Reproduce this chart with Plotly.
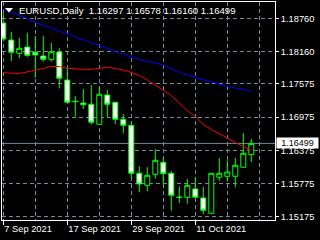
import plotly.graph_objects as go

# ---- data ----
dates = ["2021-09-07", "2021-09-08", "2021-09-09", "2021-09-10", "2021-09-13", "2021-09-14",
         "2021-09-15", "2021-09-16", "2021-09-17", "2021-09-20", "2021-09-21", "2021-09-22",
         "2021-09-23", "2021-09-24", "2021-09-27", "2021-09-28", "2021-09-29", "2021-09-30",
         "2021-10-01", "2021-10-04", "2021-10-05", "2021-10-06", "2021-10-07", "2021-10-08",
         "2021-10-11", "2021-10-12", "2021-10-13", "2021-10-14", "2021-10-15", "2021-10-18",
         "2021-10-19", "2021-10-20"]
opens = [1.18675, 1.18368, 1.18128, 1.18241, 1.18146, 1.18079, 1.18019, 1.18151, 1.17645, 1.17262,
         1.17230, 1.17206, 1.16845, 1.17374, 1.17242, 1.16935, 1.16826, 1.15959, 1.15742, 1.15941,
         1.16158, 1.15959, 1.15530, 1.15525, 1.15676, 1.15513, 1.15236, 1.15887, 1.15905, 1.15905,
         1.16068, 1.16297]
highs = [1.18856, 1.18518, 1.18409, 1.18500, 1.18440, 1.18440, 1.18319, 1.18218, 1.17857, 1.17356,
         1.17482, 1.17555, 1.17524, 1.17464, 1.17250, 1.17031, 1.16891, 1.16086, 1.16068, 1.16393,
         1.16236, 1.16006, 1.15724, 1.15856, 1.15887, 1.15711, 1.15965, 1.16236, 1.16194, 1.16236,
         1.16687, 1.16578]
lows = [1.18350, 1.17988, 1.18037, 1.18066, 1.17687, 1.17976, 1.17976, 1.17495, 1.17230, 1.16982,
        1.17121, 1.16845, 1.16832, 1.16976, 1.16845, 1.16682, 1.15874, 1.15616, 1.15634, 1.15862,
        1.15754, 1.15283, 1.15423, 1.15410, 1.15513, 1.15224, 1.15224, 1.15825, 1.15814, 1.15706,
        1.16068, 1.16160]
closes = [1.18386, 1.18146, 1.18218, 1.18091, 1.18097, 1.18019, 1.18156, 1.17676, 1.17242, 1.17255,
          1.17200, 1.16881, 1.17387, 1.17206, 1.16935, 1.16826, 1.15959, 1.15766, 1.15923, 1.16194,
          1.15952, 1.15562, 1.15522, 1.15742, 1.15525, 1.15290, 1.15959, 1.15959, 1.15983, 1.16104,
          1.16321, 1.16499]
ma_blue = [1.18919, 1.18865, 1.18814, 1.18756, 1.18688, 1.18634, 1.18585, 1.18534, 1.18485, 1.18431,
           1.18377, 1.18314, 1.18259, 1.18214, 1.18160, 1.18110, 1.18061, 1.18016, 1.17979, 1.17952,
           1.17916, 1.17844, 1.17781, 1.17735, 1.17694, 1.17645, 1.17609, 1.17573, 1.17528, 1.17501,
           1.17473, 1.17446]
ma_red = [1.17777, 1.17766, 1.17763, 1.17793, 1.17817, 1.17853, 1.17889, 1.17889, 1.17856, 1.17844,
          1.17838, 1.17838, 1.17856, 1.17875, 1.17853, 1.17826, 1.17781, 1.17726, 1.17645, 1.17555,
          1.17464, 1.17365, 1.17229, 1.17094, 1.16986, 1.16841, 1.16751, 1.16669, 1.16597, 1.16516,
          1.16444, 1.16371]
price_ticks = [1.18760, 1.18160, 1.17575, 1.16975, 1.16375, 1.15775, 1.15175]
price_tick_labels = ["1.18760", "1.18160", "1.17575", "1.16975", "1.16375", "1.15775", "1.15175"]
date_tick_idx = [0, 8, 16, 24]
date_tick_labels = ["7 Sep 2021", "17 Sep 2021", "29 Sep 2021", "11 Oct 2021"]
symbol = "EURUSD,Daily"

idx = list(range(len(dates)))
FONT = "Liberation Sans"
GRID = "#778899"
GREEN = "#00ff00"

fig = go.Figure()
fig.add_trace(go.Candlestick(
    x=idx, open=opens, high=highs, low=lows, close=closes,
    increasing=dict(line=dict(color=GREEN, width=1), fillcolor="black"),
    decreasing=dict(line=dict(color=GREEN, width=1), fillcolor="white"),
    whiskerwidth=0, hoverinfo="skip", showlegend=False))
fig.add_trace(go.Scatter(x=idx, y=ma_blue, mode="lines", line=dict(color="#0000ff", width=1),
                         hoverinfo="skip", showlegend=False))
fig.add_trace(go.Scatter(x=idx, y=ma_red, mode="lines", line=dict(color="#ff0000", width=1),
                         hoverinfo="skip", showlegend=False))

# bid line
fig.add_shape(type="line", xref="paper", x0=0, x1=1, yref="y", y0=closes[-1], y1=closes[-1],
              line=dict(color=GRID, width=1), layer="below")

PW, PH, L, T = 273.0, 218.0, 2.0, 2.0
def px(xp):
    return (xp - L) / PW
def py(yp):
    return 1 - (yp - T) / PH

# small triangle before the title
fig.add_shape(type="path", xref="paper", yref="paper",
              path=f"M{px(5)},{py(8)} L{px(13)},{py(8)} L{px(9)},{py(12.5)} Z",
              fillcolor="white", line=dict(color="white", width=0))

title = symbol + "\u00a0\u00a0" + " ".join(f"{v:.5f}" for v in (opens[-1], highs[-1], lows[-1], closes[-1]))
fig.add_annotation(xref="paper", yref="paper", x=px(17.5), y=py(10), xanchor="left", yanchor="middle",
                   text=title, showarrow=False, font=dict(family=FONT, size=9.6, color="white"),
                   borderpad=0)

fig.add_annotation(xref="paper", yref="y", x=1, y=closes[-1], xanchor="left", yanchor="middle",
                   xshift=1, text=f"{closes[-1]:.5f}", showarrow=False, bgcolor="white",
                   font=dict(family=FONT, size=9, color="black"), width=41, height=10, borderpad=0)

fig.update_layout(
    width=320, height=240,
    margin=dict(l=2, r=45, t=2, b=20),
    paper_bgcolor="black", plot_bgcolor="black",
    boxgap=0.375, boxgroupgap=0,
    font=dict(family=FONT, size=9, color="white"),
    xaxis=dict(range=[-0.1625, 33.9625], tickmode="array", tickvals=date_tick_idx, ticktext=date_tick_labels,
               ticks="outside", ticklen=4, tickcolor="white", ticklabelposition="outside right",
               tickfont=dict(family=FONT, size=9.3, color="white"),
               showgrid=True, gridcolor=GRID, griddash="4px,3px", gridwidth=1,
               minor=dict(tickmode="array", tickvals=list(range(0, 34, 4)), showgrid=True,
                          gridcolor=GRID, griddash="4px,3px", gridwidth=1, ticks=""),
               showline=True, linecolor="white", linewidth=1, mirror=True, zeroline=False,
               rangeslider=dict(visible=False), fixedrange=True),
    yaxis=dict(range=[1.15115, 1.19055], side="right", tickmode="array", tickvals=price_ticks,
               ticktext=price_tick_labels, ticks="outside", ticklen=3, tickcolor="white",
               tickfont=dict(family=FONT, size=9.3, color="white"),
               showgrid=True, gridcolor=GRID, griddash="4px,3px", gridwidth=1,
               showline=True, linecolor="white", linewidth=1, mirror=True, zeroline=False,
               fixedrange=True),
)

fig.write_html("out.html", config={"displayModeBar": False})
